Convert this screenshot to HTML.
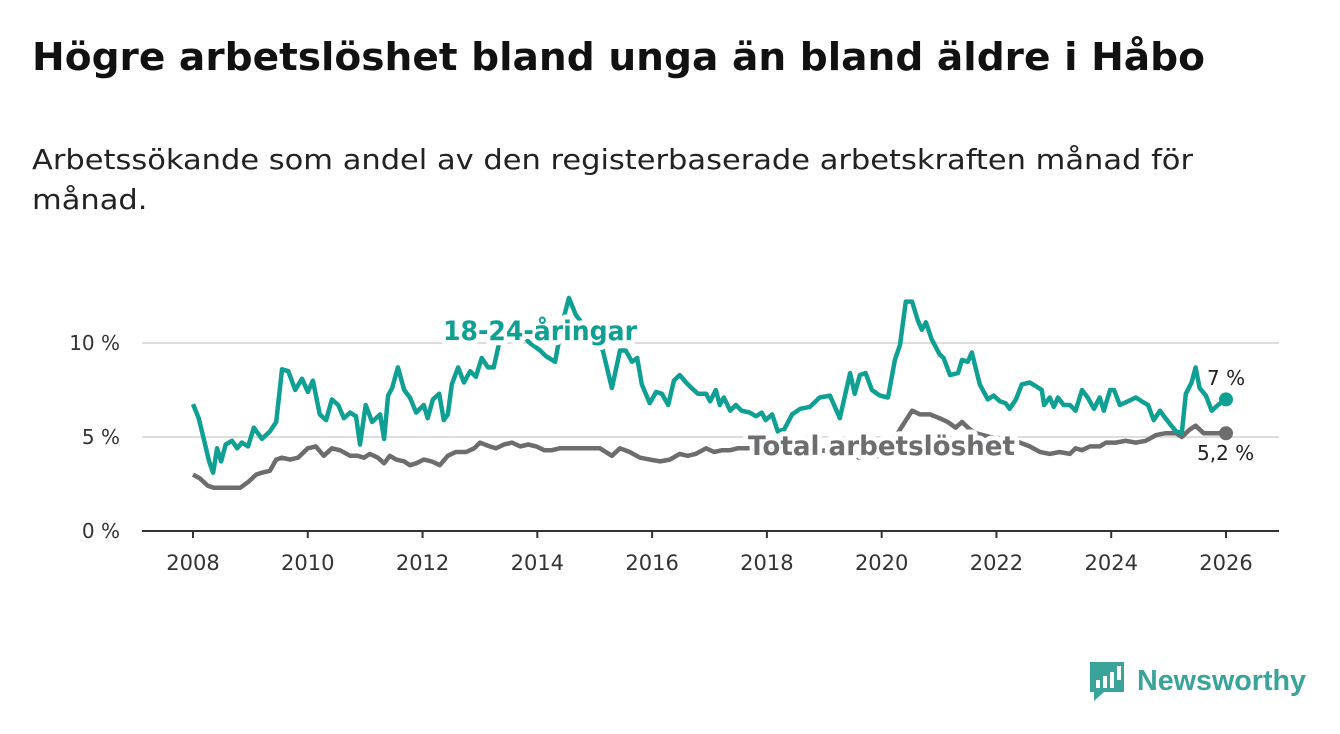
<!DOCTYPE html>
<html><head><meta charset="utf-8">
<style>
body{margin:0;background:#fff;width:1340px;height:734px;overflow:hidden;font-family:"DejaVu Sans","Liberation Sans",sans-serif;}
#title{position:absolute;left:32px;top:35px;font-size:38px;font-weight:bold;color:#111;white-space:nowrap;transform-origin:0 0}
.sub{position:absolute;left:32px;font-size:28px;color:#222;white-space:nowrap;transform-origin:0 0}
svg{position:absolute;left:0;top:0}
</style></head><body>
<div id="title">Högre arbetslöshet bland unga än bland äldre i Håbo</div>
<div class="sub" id="sub1" style="top:143px">Arbetssökande som andel av den registerbaserade arbetskraften månad för</div>
<div class="sub" id="sub2" style="top:183px">månad.</div>
<svg id="chart" width="1340" height="734"></svg>
<script>
const xTicks=[2008,2010,2012,2014,2016,2018,2020,2022,2024,2026];
const yTicks=[0,5,10];
const yTickLabels=["0 %","5 %","10 %"];
const youthT=[2008.00,2008.10,2008.21,2008.28,2008.35,2008.42,2008.49,2008.57,2008.68,2008.77,2008.85,2008.96,2009.06,2009.20,2009.34,2009.45,2009.55,2009.66,2009.78,2009.90,2010.00,2010.09,2010.21,2010.32,2010.42,2010.53,2010.63,2010.74,2010.84,2010.91,2011.01,2011.12,2011.26,2011.33,2011.40,2011.47,2011.57,2011.68,2011.78,2011.89,2012.02,2012.09,2012.18,2012.29,2012.37,2012.44,2012.51,2012.62,2012.72,2012.83,2012.93,2013.03,2013.14,2013.24,2013.35,2013.52,2013.70,2013.87,2014.05,2014.15,2014.31,2014.43,2014.55,2014.67,2014.92,2015.14,2015.30,2015.44,2015.54,2015.65,2015.74,2015.82,2015.96,2016.07,2016.17,2016.28,2016.38,2016.48,2016.59,2016.69,2016.80,2016.94,2017.01,2017.11,2017.18,2017.25,2017.36,2017.46,2017.56,2017.70,2017.81,2017.91,2017.98,2018.09,2018.19,2018.30,2018.44,2018.58,2018.75,2018.92,2019.10,2019.27,2019.45,2019.53,2019.62,2019.72,2019.83,2019.97,2020.11,2020.23,2020.32,2020.42,2020.53,2020.63,2020.70,2020.77,2020.87,2021.01,2021.08,2021.19,2021.33,2021.40,2021.50,2021.57,2021.71,2021.85,2021.95,2022.06,2022.16,2022.23,2022.34,2022.44,2022.58,2022.69,2022.79,2022.83,2022.93,2023.00,2023.07,2023.17,2023.28,2023.38,2023.49,2023.59,2023.70,2023.80,2023.87,2023.98,2024.05,2024.15,2024.29,2024.43,2024.53,2024.64,2024.74,2024.85,2024.92,2025.02,2025.13,2025.23,2025.30,2025.40,2025.47,2025.54,2025.65,2025.75,2025.86,2026.00];
const youthV=[6.75,6.0,4.6,3.7,3.1,4.4,3.7,4.6,4.8,4.4,4.7,4.5,5.5,4.9,5.3,5.8,8.6,8.5,7.5,8.1,7.4,8.0,6.2,5.9,7.0,6.7,6.0,6.3,6.1,4.6,6.7,5.8,6.2,4.9,7.2,7.6,8.7,7.5,7.1,6.3,6.7,6.0,7.0,7.3,5.9,6.2,7.8,8.7,7.9,8.5,8.2,9.2,8.7,8.7,10.2,10.8,10.5,10.0,9.6,9.3,9.0,11.0,12.4,11.5,10.5,9.6,7.6,9.6,9.6,9.0,9.2,7.8,6.8,7.4,7.3,6.7,8.0,8.3,7.9,7.6,7.3,7.3,6.9,7.5,6.7,7.1,6.4,6.7,6.4,6.3,6.1,6.3,5.9,6.2,5.3,5.4,6.2,6.5,6.6,7.1,7.2,6.0,8.4,7.3,8.3,8.4,7.5,7.2,7.1,9.1,9.9,12.2,12.2,11.2,10.7,11.1,10.2,9.4,9.2,8.3,8.4,9.1,9.0,9.5,7.8,7.0,7.2,6.9,6.8,6.5,7.0,7.8,7.9,7.7,7.5,6.7,7.1,6.6,7.1,6.7,6.7,6.4,7.5,7.1,6.5,7.1,6.4,7.5,7.5,6.7,6.9,7.1,6.9,6.7,5.9,6.4,6.1,5.7,5.3,5.2,7.3,7.9,8.7,7.6,7.2,6.4,6.7,7.0];
const totalT=[2008.00,2008.12,2008.26,2008.37,2008.82,2008.96,2009.10,2009.20,2009.34,2009.45,2009.55,2009.69,2009.83,2010.00,2010.14,2010.28,2010.42,2010.56,2010.74,2010.87,2010.98,2011.08,2011.22,2011.33,2011.43,2011.54,2011.68,2011.78,2011.89,2012.02,2012.16,2012.30,2012.44,2012.58,2012.76,2012.90,2013.00,2013.17,2013.28,2013.42,2013.56,2013.70,2013.84,2013.98,2014.12,2014.25,2014.39,2014.53,2014.81,2015.09,2015.30,2015.44,2015.61,2015.79,2015.96,2016.14,2016.31,2016.48,2016.62,2016.76,2016.94,2017.08,2017.22,2017.36,2017.49,2017.70,2018.05,2018.58,2019.10,2019.62,2019.97,2020.18,2020.32,2020.53,2020.67,2020.84,2021.01,2021.15,2021.29,2021.40,2021.54,2021.64,2021.89,2022.15,2022.41,2022.58,2022.76,2022.93,2023.10,2023.28,2023.38,2023.49,2023.63,2023.80,2023.91,2024.08,2024.25,2024.43,2024.60,2024.78,2024.95,2025.13,2025.23,2025.37,2025.47,2025.61,2025.79,2026.00];
const totalV=[3.0,2.8,2.4,2.3,2.3,2.6,3.0,3.1,3.2,3.8,3.9,3.8,3.9,4.4,4.5,4.0,4.4,4.3,4.0,4.0,3.9,4.1,3.9,3.6,4.0,3.8,3.7,3.5,3.6,3.8,3.7,3.5,4.0,4.2,4.2,4.4,4.7,4.5,4.4,4.6,4.7,4.5,4.6,4.5,4.3,4.3,4.4,4.4,4.4,4.4,4.0,4.4,4.2,3.9,3.8,3.7,3.8,4.1,4.0,4.1,4.4,4.2,4.3,4.3,4.4,4.4,4.3,4.2,4.3,3.9,4.0,4.7,5.4,6.4,6.2,6.2,6.0,5.8,5.5,5.8,5.4,5.2,5.0,4.9,4.7,4.5,4.2,4.1,4.2,4.1,4.4,4.3,4.5,4.5,4.7,4.7,4.8,4.7,4.8,5.1,5.2,5.2,5.0,5.4,5.6,5.2,5.2,5.2];

function fit(id,w){const e=document.getElementById(id);const r=e.getBoundingClientRect().width;e.style.transform='scaleX('+(w/r)+')';}
fit('title',1173);fit('sub1',1161);
document.getElementById('sub2').style.transform=document.getElementById('sub1').style.transform;

const NS='http://www.w3.org/2000/svg';
const svg=document.getElementById('chart');
const X=t=>193+(t-2008)*(1226-193)/18;
const Y=v=>531-v*18.8;
function mk(tag,attrs,parent){const e=document.createElementNS(NS,tag);for(const k in attrs)e.setAttribute(k,attrs[k]);(parent||svg).appendChild(e);return e;}

yTicks.forEach((v,i)=>{
  if(v>0){const g=mk('line',{x1:142,x2:1279,y1:Y(v),y2:Y(v),stroke:'#dddddd','stroke-width':2});
  
  }
  const t=mk('text',{x:120,y:Y(v)+7,'text-anchor':'end','font-size':20,fill:'#333'});
  t.textContent=yTickLabels[i];
  
  
});
const ax=mk('line',{x1:142,x2:1279,y1:531,y2:531,stroke:'#333','stroke-width':2});


xTicks.forEach(yr=>{
  const tk=mk('line',{x1:X(yr),x2:X(yr),y1:531,y2:538,stroke:'#333','stroke-width':2});
  
  
  const t=mk('text',{x:X(yr),y:570,'text-anchor':'middle','font-size':21,fill:'#333'});
  t.textContent=yr;
  
  
});
function line(T,V,color,name){
  const d=T.map((t,i)=>(i?'L':'M')+X(t).toFixed(1)+','+Y(V[i]).toFixed(1)).join('');
  const p=mk('path',{d:d,fill:'none',stroke:color,'stroke-width':4.5,'stroke-linejoin':'round'});
  
  
  const n=T.length-1;
  const c=mk('circle',{cx:X(T[n]),cy:Y(V[n]),r:7,fill:color});
  
  
}
const teal='#0fa093', gray='#6d6d70';
line(totalT,totalV,gray,'total-line');
line(youthT,youthV,teal,'youth-line');
function lab(txt,x,y,color,size,bold,name,halo,len){
  const t=mk('text',{x:x,y:y,fill:color,'font-size':size,'font-weight':bold?'bold':'normal'});
  if(halo){t.setAttribute('stroke','#fff');t.setAttribute('stroke-width',10);t.setAttribute('paint-order','stroke');t.setAttribute('stroke-linejoin','round');}
  if(len){t.setAttribute('textLength',len);t.setAttribute('lengthAdjust','spacingAndGlyphs');}
  t.textContent=txt;
  
  
}
lab('18-24-åringar',443,340,teal,27,true,'youth-series-label',true,194);
lab('Total arbetslöshet',748,455,gray,27,true,'total-series-label',true,267);
lab('7 %',1207,385,'#222',20,false,'youth-end-value',false);
lab('5,2 %',1197,460,'#222',20,false,'total-end-value',false);
</script>
<svg width="1340" height="734" style="pointer-events:none">
  <path d="M1090 662 h34 v30 h-20 l-10 9 v-9 h-4 z" fill="#3aa39a"/>
  <rect x="1096" y="680" width="4" height="8" fill="#fff"/>
  <rect x="1103" y="676" width="4" height="12" fill="#fff"/>
  <rect x="1110" y="672" width="4" height="16" fill="#fff"/>
  <rect x="1117" y="666" width="4" height="14" fill="#fff"/>
  <text x="1137" y="690" font-size="29" font-weight="bold" fill="#3aa39a" font-family="Liberation Sans, sans-serif" textLength="169" lengthAdjust="spacingAndGlyphs">Newsworthy</text>
</svg>
</body></html>
